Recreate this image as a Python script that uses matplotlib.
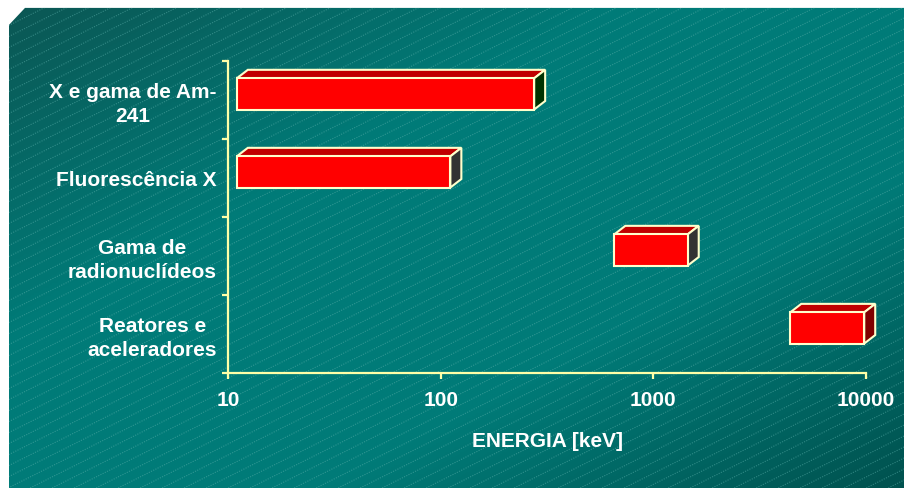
import numpy as np
import matplotlib
matplotlib.use('Agg')
import matplotlib.pyplot as plt
from matplotlib.patches import Polygon, Rectangle
from matplotlib.ticker import NullLocator, FixedLocator, NullFormatter, FixedFormatter
from matplotlib.colors import LinearSegmentedColormap

# Dados
categorias = ['X e gama de Am-\n241', 'Fluorescência X', 'Gama de\nradionuclídeos', 'Reatores e\naceleradores']
inicio = [11, 11, 655, 4400]      # keV
fim = [275, 111, 1450, 9800]      # keV
cores_lado = ['#003300', '#333333', '#333333', '#800000']
ticks_x = [10, 100, 1000, 10000]
rotulos_x = ['10', '100', '1000', '10000']

plt.rcParams['font.family'] = ['Liberation Sans', 'DejaVu Sans']

W, H = 904, 488
fig = plt.figure(figsize=(W / 100 + 0.001, H / 100 + 0.001), dpi=100, facecolor='white')

# Fundo: gradiente verde-azulado com listras diagonais
bg = fig.add_axes([0, 0, 1, 1], zorder=0)
bg.axis('off')
contorno = Polygon([(9, 25), (25, 8), (W + 10, 8), (W + 10, H + 10), (9, H + 10)], closed=True,
                   facecolor='none', edgecolor='none', transform=bg.transData)
bg.add_patch(contorno)
xx, yy = np.meshgrid(np.linspace(0, 1, 300), np.linspace(0, 1, 200))
t = xx + yy
cmap = LinearSegmentedColormap.from_list('fundo', ['#0b5754', '#007b78', '#007b78', '#00504d'])
img = bg.imshow(t, cmap=cmap, vmin=0, vmax=2, extent=[9, W + 10, H + 10, 8], aspect='auto',
                interpolation='bilinear')
img.set_clip_path(contorno)
for b in np.arange(8, H + W * 0.5 + 20, 11):
    ln, = bg.plot([0, W + 10], [b, b - 0.5 * (W + 10)], color='#5fb3ae', lw=0.8, alpha=0.5,
                  ls=(0, (1, 1.2)))
    ln.set_clip_path(contorno)
bg.set_xlim(0, W)
bg.set_ylim(H, 0)

# Gráfico
ax = fig.add_axes([228 / W, 1 - 373 / H, (866 - 228) / W, (373 - 61) / H], zorder=1)
ax.set_facecolor('none')
ax.set_xscale('log')
ax.set_xlim(10, 10000)
ax.set_ylim(4, 0)

amarelo = '#ffffa8'
for lado in ['top', 'right']:
    ax.spines[lado].set_visible(False)
for lado in ['left', 'bottom']:
    ax.spines[lado].set_color(amarelo)
    ax.spines[lado].set_linewidth(1.6)

ax.xaxis.set_major_locator(FixedLocator(ticks_x))
ax.xaxis.set_major_formatter(FixedFormatter(rotulos_x))
ax.xaxis.set_minor_locator(NullLocator())
ax.tick_params(axis='x', which='major', direction='out', length=4, width=1.6,
               color=amarelo, labelcolor='white', labelsize=15, pad=9)
for lbl in ax.get_xticklabels():
    lbl.set_fontweight('bold')

ax.yaxis.set_major_locator(FixedLocator([0, 1, 2, 3, 4]))
ax.yaxis.set_major_formatter(NullFormatter())
ax.yaxis.set_minor_locator(FixedLocator([0.5, 1.5, 2.5, 3.5]))
ax.yaxis.set_minor_formatter(FixedFormatter(categorias))
ax.tick_params(axis='y', which='major', direction='out', length=4, width=1.6, color=amarelo)
ax.tick_params(axis='y', which='minor', length=0, labelcolor='white', labelsize=15, pad=8)
for lbl in ax.get_yticklabels(minor=True):
    lbl.set_fontweight('bold')
    lbl.set_multialignment('center')
    lbl.set_linespacing(1.3)

ax.set_xlabel('ENERGIA [keV]', color='white', fontsize=15, fontweight='bold')
ax.xaxis.set_label_coords(0.5, -0.218)
ax.xaxis.label.set_va('center')

# Barras 3D (profundidade em pixels)
dx, dy = 11, 8.5
altura = 0.40
borda = '#ffffcc'
for i in range(len(categorias)):
    yc = i + 0.5 - 0.077
    y0, y1 = yc + altura / 2, yc - altura / 2   # y0 em baixo, y1 em cima
    p = ax.transData.transform([(inicio[i], y0), (fim[i], y0), (fim[i], y1), (inicio[i], y1)])
    (xa, yb), (xb, _), (_, yt), _ = p
    topo = Polygon([(xa, yt), (xb, yt), (xb + dx, yt + dy), (xa + dx, yt + dy)],
                   closed=True, transform=None, facecolor='#c00000', edgecolor=borda,
                   lw=1.5, joinstyle='miter', zorder=3, clip_on=False)
    lado = Polygon([(xb, yb), (xb + dx, yb + dy), (xb + dx, yt + dy), (xb, yt)],
                   closed=True, transform=None, facecolor=cores_lado[i], edgecolor=borda,
                   lw=1.5, joinstyle='miter', zorder=3, clip_on=False)
    frente = Rectangle((inicio[i], y1), fim[i] - inicio[i], altura, facecolor='#ff0000',
                       edgecolor=borda, lw=1.5, joinstyle='miter', zorder=4, clip_on=False)
    ax.add_patch(topo)
    ax.add_patch(lado)
    ax.add_patch(frente)

fig.savefig('out.png', dpi=100, facecolor='white')
